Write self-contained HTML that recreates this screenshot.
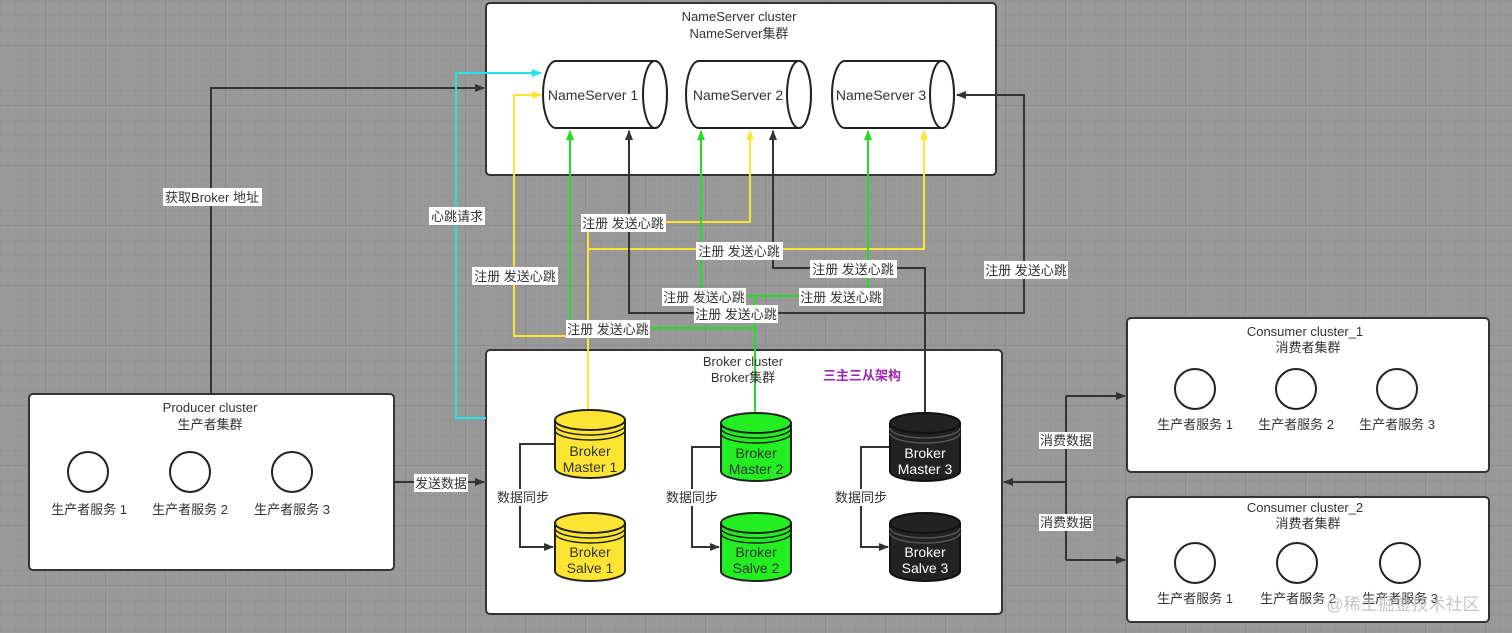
<!DOCTYPE html>
<html><head><meta charset="utf-8"><style>
html,body{margin:0;padding:0;}
body{width:1512px;height:633px;overflow:hidden;background-color:#999;
background-image:
linear-gradient(to right,#8c8c8c 1px,transparent 1px),
linear-gradient(to bottom,#8c8c8c 1px,transparent 1px),
linear-gradient(to right,#949494 1px,transparent 1px),
linear-gradient(to bottom,#949494 1px,transparent 1px);
background-size:60px 60px,60px 60px,15px 15px,15px 15px;
background-position:45px 45px,45px 45px,0 0,0 0;}
svg{position:absolute;left:0;top:0;}
text{font-family:"Liberation Sans","Noto Sans CJK SC",sans-serif;font-size:13px;fill:#333;}
.c{text-anchor:middle;}
</style></head><body>
<svg width="1512" height="633" viewBox="0 0 1512 633">
<defs>
<marker id="ak" markerWidth="10" markerHeight="8" refX="9" refY="4" orient="auto-start-reverse" markerUnits="userSpaceOnUse"><path d="M0,0 L10,4 L0,8 Z" fill="#333"/></marker>
<marker id="ay" markerWidth="10" markerHeight="8" refX="9" refY="4" orient="auto" markerUnits="userSpaceOnUse"><path d="M0,0 L10,4 L0,8 Z" fill="#ffe533"/></marker>
<marker id="ag" markerWidth="10" markerHeight="8" refX="9" refY="4" orient="auto" markerUnits="userSpaceOnUse"><path d="M0,0 L10,4 L0,8 Z" fill="#22dd22"/></marker>
<marker id="ac" markerWidth="10" markerHeight="8" refX="9" refY="4" orient="auto" markerUnits="userSpaceOnUse"><path d="M0,0 L10,4 L0,8 Z" fill="#22e6e6"/></marker>
</defs>
<g fill="#fff" stroke="#333" stroke-width="2">
<rect x="486" y="3" width="510" height="172" rx="4"/>
<rect x="486" y="350" width="516" height="264" rx="4"/>
<rect x="29" y="394" width="365" height="176" rx="4"/>
<rect x="1127" y="318" width="362" height="154" rx="4"/>
<rect x="1127" y="497" width="362" height="125" rx="4"/>
</g>
<g fill="none" stroke-width="2">
<path d="M211,394 V88 H484" stroke="#333" marker-end="url(#ak)"/>
<path d="M486,418 H456 V73 H541" stroke="#22e6e6" marker-end="url(#ac)"/>
<path d="M588,410 V222 H750 V131" stroke="#ffe533" marker-end="url(#ay)"/>
<path d="M588,249 H924 V131" stroke="#ffe533" marker-end="url(#ay)"/>
<path d="M588,336 H514 V95 H541" stroke="#ffe533" marker-end="url(#ay)"/>
<path d="M755,412 V328 H570 V131" stroke="#22dd22" marker-end="url(#ag)"/>
<path d="M755,330 V296 H701 V131" stroke="#22dd22" marker-end="url(#ag)"/>
<path d="M755,296 H868 V131" stroke="#22dd22" marker-end="url(#ag)"/>
<path d="M925,412 V268 H773 V131" stroke="#333" marker-end="url(#ak)"/>
<path d="M629,131 V313 H1024 V95 H957" stroke="#333" marker-start="url(#ak)" marker-end="url(#ak)"/>
<path d="M394,482 H484" stroke="#333" marker-end="url(#ak)"/>
<path d="M1066,482 H1004" stroke="#333" marker-end="url(#ak)"/>
<path d="M1066,396 V560" stroke="#333"/>
<path d="M1066,396 H1125" stroke="#333" marker-end="url(#ak)"/>
<path d="M1066,560 H1125" stroke="#333" marker-end="url(#ak)"/>
<path d="M555,444 H520 V547 H553" stroke="#333" marker-end="url(#ak)"/>
<path d="M721,447 H692 V547 H719" stroke="#333" marker-end="url(#ak)"/>
<path d="M890,447 H861 V547 H888" stroke="#333" marker-end="url(#ak)"/>
</g>
<g stroke="#222" stroke-width="2" fill="#fff">
<path d="M556,61 H655 A12,33.5 0 0 1 655,128 H556 A13,33.5 0 0 1 556,61 Z"/><ellipse cx="655" cy="94.5" rx="12" ry="33.5"/>
<path d="M699,61 H799 A12,33.5 0 0 1 799,128 H699 A13,33.5 0 0 1 699,61 Z"/><ellipse cx="799" cy="94.5" rx="12" ry="33.5"/>
<path d="M845,61 H942 A12,33.5 0 0 1 942,128 H845 A13,33.5 0 0 1 845,61 Z"/><ellipse cx="942" cy="94.5" rx="12" ry="33.5"/>
</g>
<text x="593" y="100" class="c" style="font-size:14px">NameServer 1</text>
<text x="738" y="100" class="c" style="font-size:14px">NameServer 2</text>
<text x="881" y="100" class="c" style="font-size:14px">NameServer 3</text>
<g stroke="#222" stroke-width="2">
<g fill="#ffe533">
<path d="M555,420 V468 A35,10 0 0 0 625,468 V420"/><ellipse cx="590" cy="420" rx="35" ry="10"/>
<path d="M555,523 V571 A35,10 0 0 0 625,571 V523"/><ellipse cx="590" cy="523" rx="35" ry="10"/>
</g>
<g fill="#22ee22">
<path d="M721,423 V471 A35,10 0 0 0 791,471 V423"/><ellipse cx="756" cy="423" rx="35" ry="10"/>
<path d="M721,523 V571 A35,10 0 0 0 791,571 V523"/><ellipse cx="756" cy="523" rx="35" ry="10"/>
</g>
<g fill="#222" stroke="#111">
<path d="M890,423 V471 A35,10 0 0 0 960,471 V423"/><ellipse cx="925" cy="423" rx="35" ry="10"/>
<path d="M890,523 V571 A35,10 0 0 0 960,571 V523"/><ellipse cx="925" cy="523" rx="35" ry="10"/>
</g>
</g>
<g fill="none" stroke-width="1.5">
<path d="M555,425 A35,10 0 0 0 625,425 M555,430 A35,10 0 0 0 625,430 M555,528 A35,10 0 0 0 625,528 M555,533 A35,10 0 0 0 625,533 M721,428 A35,10 0 0 0 791,428 M721,433 A35,10 0 0 0 791,433 M721,528 A35,10 0 0 0 791,528 M721,533 A35,10 0 0 0 791,533" stroke="#222"/>
<path d="M890,428 A35,10 0 0 0 960,428 M890,433 A35,10 0 0 0 960,433 M890,528 A35,10 0 0 0 960,528 M890,533 A35,10 0 0 0 960,533" stroke="#555"/>
</g>
<text x="590" y="456" class="c" style="font-size:14px">Broker</text><text x="590" y="472" class="c" style="font-size:14px">Master 1</text>
<text x="590" y="557" class="c" style="font-size:14px">Broker</text><text x="590" y="573" class="c" style="font-size:14px">Salve 1</text>
<text x="756" y="458" class="c" style="font-size:14px">Broker</text><text x="756" y="474" class="c" style="font-size:14px">Master 2</text>
<text x="756" y="557" class="c" style="font-size:14px">Broker</text><text x="756" y="573" class="c" style="font-size:14px">Salve 2</text>
<text x="925" y="458" class="c" style="font-size:14px;fill:#fff">Broker</text><text x="925" y="474" class="c" style="font-size:14px;fill:#fff">Master 3</text>
<text x="925" y="557" class="c" style="font-size:14px;fill:#fff">Broker</text><text x="925" y="573" class="c" style="font-size:14px;fill:#fff">Salve 3</text>
<text x="739" y="21" class="c">NameServer cluster</text><text x="739" y="38" class="c">NameServer集群</text>
<text x="743" y="366" class="c">Broker cluster</text><text x="743" y="382" class="c">Broker集群</text>
<text x="862" y="380" class="c" style="fill:#9c27b0;font-weight:bold">三主三从架构</text>
<text x="210" y="412" class="c">Producer cluster</text><text x="210" y="429" class="c">生产者集群</text>
<text x="1305" y="336" class="c">Consumer cluster_1</text><text x="1308" y="352" class="c">消费者集群</text>
<text x="1305" y="512" class="c">Consumer cluster_2</text><text x="1308" y="528" class="c">消费者集群</text>
<g fill="#fff" stroke="#222" stroke-width="2">
<circle cx="88" cy="472" r="20"/><circle cx="190" cy="472" r="20"/><circle cx="292" cy="472" r="20"/>
<circle cx="1195" cy="389" r="20"/><circle cx="1296" cy="389" r="20"/><circle cx="1397" cy="389" r="20"/>
<circle cx="1195" cy="563" r="20"/><circle cx="1297" cy="563" r="20"/><circle cx="1400" cy="563" r="20"/>
</g>
<text x="89" y="514" class="c">生产者服务 1</text><text x="190" y="514" class="c">生产者服务 2</text><text x="292" y="514" class="c">生产者服务 3</text>
<text x="1195" y="429" class="c">生产者服务 1</text><text x="1296" y="429" class="c">生产者服务 2</text><text x="1397" y="429" class="c">生产者服务 3</text>
<text x="1195" y="603" class="c">生产者服务 1</text><text x="1298" y="603" class="c">生产者服务 2</text><text x="1400" y="603" class="c">生产者服务 3</text>
<g fill="#fff">
<rect x="163" y="188" width="99" height="18"/>
<rect x="429" y="207" width="56" height="18"/>
<rect x="581" y="214" width="85" height="18"/>
<rect x="696" y="242" width="87" height="18"/>
<rect x="472" y="267" width="86" height="18"/>
<rect x="810" y="260" width="87" height="18"/>
<rect x="984" y="261" width="84" height="18"/>
<rect x="662" y="288" width="84" height="18"/>
<rect x="799" y="288" width="84" height="18"/>
<rect x="694" y="305" width="84" height="18"/>
<rect x="566" y="320" width="84" height="18"/>
<rect x="414" y="474" width="54" height="18"/>
<rect x="497" y="489" width="52" height="17"/>
<rect x="666" y="489" width="52" height="17"/>
<rect x="835" y="489" width="52" height="17"/>
<rect x="1039" y="432" width="54" height="17"/>
<rect x="1039" y="514" width="54" height="17"/>
</g>
<text x="212" y="202" class="c">获取Broker 地址</text>
<text x="457" y="221" class="c">心跳请求</text>
<text x="623" y="228" class="c">注册 发送心跳</text>
<text x="739" y="256" class="c">注册 发送心跳</text>
<text x="515" y="281" class="c">注册 发送心跳</text>
<text x="853" y="274" class="c">注册 发送心跳</text>
<text x="1026" y="275" class="c">注册 发送心跳</text>
<text x="704" y="302" class="c">注册 发送心跳</text>
<text x="841" y="302" class="c">注册 发送心跳</text>
<text x="736" y="319" class="c">注册 发送心跳</text>
<text x="608" y="334" class="c">注册 发送心跳</text>
<text x="441" y="488" class="c">发送数据</text>
<text x="523" y="502" class="c">数据同步</text>
<text x="692" y="502" class="c">数据同步</text>
<text x="861" y="502" class="c">数据同步</text>
<text x="1066" y="445" class="c">消费数据</text>
<text x="1066" y="527" class="c">消费数据</text>
<text x="1403" y="610" class="c" style="font-size:17px;fill:#bbb;opacity:0.85">@稀土掘金技术社区</text>
</svg>
</body></html>
